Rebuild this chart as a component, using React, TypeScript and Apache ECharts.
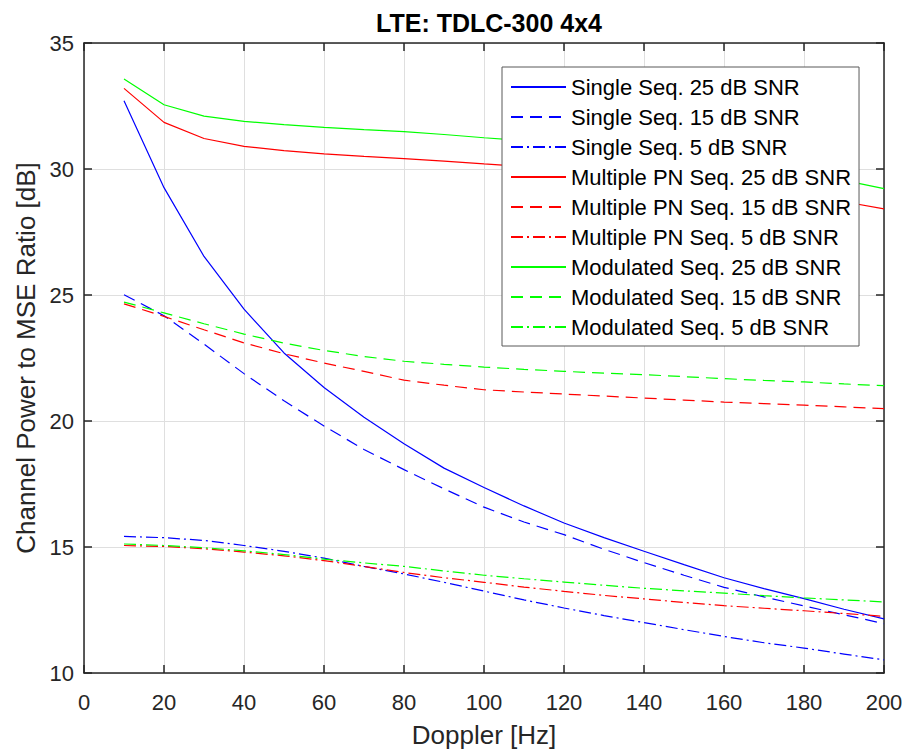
import React, { useEffect, useRef } from "react";
import * as echarts from "echarts";

const doppler = [10, 20, 30, 40, 50, 60, 70, 80, 90, 100, 110, 120, 130, 140, 150, 160, 170, 180, 190, 200];

const single25 = [32.71, 29.26, 26.53, 24.44, 22.7, 21.33, 20.15, 19.1, 18.13, 17.36, 16.63, 15.95, 15.37, 14.83, 14.3, 13.78, 13.35, 12.95, 12.53, 12.15];
const single15 = [25.01, 24.18, 23.05, 21.88, 20.8, 19.8, 18.87, 18.07, 17.31, 16.58, 15.99, 15.49, 14.91, 14.38, 13.88, 13.4, 13.02, 12.66, 12.31, 11.96];
const single5 = [15.42, 15.37, 15.26, 15.06, 14.83, 14.56, 14.23, 13.93, 13.6, 13.25, 12.9, 12.58, 12.28, 12.0, 11.72, 11.45, 11.2, 10.99, 10.75, 10.52];
const multi25 = [33.2, 31.85, 31.21, 30.9, 30.73, 30.6, 30.5, 30.41, 30.31, 30.2, 30.1, 29.98, 29.85, 29.7, 29.53, 29.35, 29.15, 28.93, 28.7, 28.42];
const multi15 = [24.65, 24.15, 23.62, 23.1, 22.67, 22.3, 21.97, 21.62, 21.42, 21.24, 21.15, 21.07, 20.99, 20.91, 20.83, 20.75, 20.69, 20.63, 20.56, 20.49];
const multi5 = [15.06, 15.02, 14.93, 14.8, 14.65, 14.46, 14.23, 13.99, 13.78, 13.6, 13.41, 13.24, 13.08, 12.94, 12.8, 12.67, 12.57, 12.47, 12.36, 12.25];
const mod25 = [33.57, 32.55, 32.1, 31.89, 31.76, 31.65, 31.56, 31.48, 31.37, 31.24, 31.12, 30.99, 30.84, 30.68, 30.5, 30.3, 30.08, 29.84, 29.55, 29.22];
const mod15 = [24.72, 24.29, 23.86, 23.45, 23.09, 22.8, 22.56, 22.37, 22.25, 22.14, 22.05, 21.97, 21.9, 21.84, 21.76, 21.68, 21.61, 21.55, 21.47, 21.4];
const mod5 = [15.12, 15.06, 14.97, 14.85, 14.7, 14.52, 14.37, 14.23, 14.05, 13.88, 13.74, 13.61, 13.48, 13.36, 13.26, 13.17, 13.07, 12.98, 12.9, 12.82];

const seriesNames = [
  "Single Seq. 25 dB SNR",
  "Single Seq. 15 dB SNR",
  "Single Seq. 5 dB SNR",
  "Multiple PN Seq. 25 dB SNR",
  "Multiple PN Seq. 15 dB SNR",
  "Multiple PN Seq. 5 dB SNR",
  "Modulated Seq. 25 dB SNR",
  "Modulated Seq. 15 dB SNR",
  "Modulated Seq. 5 dB SNR",
];
const seriesValues = [single25, single15, single5, multi25, multi15, multi5, mod25, mod15, mod5];
const seriesColors = ["#0000ff", "#0000ff", "#0000ff", "#ff0000", "#ff0000", "#ff0000", "#00ff00", "#00ff00", "#00ff00"];
const DASH = [12, 7];
const DASHDOT = [12, 4, 2, 4];
const seriesDash: any[] = ["solid", DASH, DASHDOT, "solid", DASH, DASHDOT, "solid", DASH, DASHDOT];

const FONT = "'Liberation Sans', Arial, Helvetica, sans-serif";
const AX = "#262626";

export default function App() {
  const ref = useRef<HTMLDivElement>(null);
  useEffect(() => {
    if (!ref.current) return;
    const chart = echarts.init(ref.current, undefined, { renderer: "svg" });
    const axisCommon = {
      axisLine: { show: true, onZero: false, lineStyle: { color: AX, width: 1.5 } },
      axisTick: { show: true, inside: true, length: 8, lineStyle: { color: AX, width: 1.5 } },
    };
    const option: any = {
      animation: false,
      backgroundColor: "#ffffff",
      textStyle: { fontFamily: FONT },
      title: {
        text: "LTE: TDLC-300 4x4",
        left: 484,
        top: 5,
        textAlign: "center",
        textStyle: { fontFamily: FONT, fontSize: 25, fontWeight: "bold", color: "#000000" },
      },
      grid: { left: 84, top: 43, right: 21, bottom: 76, containLabel: false, outerBoundsMode: "none" },
      legend: {
        orient: "vertical",
        left: 502,
        top: 67,
        z: 20,
        padding: [9, 8, 8, 8],
        itemWidth: 55,
        itemHeight: 14,
        itemGap: 8,
        backgroundColor: "#ffffff",
        borderColor: "#595959",
        borderWidth: 1,
        borderRadius: 0,
        itemStyle: { opacity: 0 },
        textStyle: { fontFamily: FONT, fontSize: 22, lineHeight: 22, color: "#000000" },
        data: seriesNames,
      },
      xAxis: [
        {
          type: "value",
          min: 0,
          max: 200,
          interval: 20,
          position: "bottom",
          name: "Doppler [Hz]",
          nameLocation: "middle",
          nameGap: 49,
          nameTextStyle: { fontFamily: FONT, fontSize: 26, color: AX },
          ...axisCommon,
          axisLabel: { show: true, margin: 18, fontFamily: FONT, fontSize: 22, color: AX },
          splitLine: { show: true, lineStyle: { color: "#dfdfdf", width: 1 } },
        },
        {
          type: "value",
          min: 0,
          max: 200,
          interval: 20,
          position: "top",
          ...axisCommon,
          axisLabel: { show: false },
          splitLine: { show: false },
        },
      ],
      yAxis: [
        {
          type: "value",
          min: 10,
          max: 35,
          interval: 5,
          position: "left",
          name: "Channel Power to MSE Ratio [dB]",
          nameLocation: "middle",
          nameGap: 45,
          nameRotate: 90,
          nameTextStyle: { fontFamily: FONT, fontSize: 26, color: AX },
          ...axisCommon,
          axisLabel: { show: true, margin: 10, fontFamily: FONT, fontSize: 22, color: AX },
          splitLine: { show: true, lineStyle: { color: "#dfdfdf", width: 1 } },
        },
        {
          type: "value",
          min: 10,
          max: 35,
          interval: 5,
          position: "right",
          ...axisCommon,
          axisLabel: { show: false },
          splitLine: { show: false },
        },
      ],
      series: seriesNames.map((name, i) => ({
        name,
        type: "line",
        xAxisIndex: 0,
        yAxisIndex: 0,
        showSymbol: false,
        symbol: "none",
        color: seriesColors[i],
        lineStyle: { color: seriesColors[i], width: 1.2, type: seriesDash[i] },
        data: doppler.map((d, j) => [d, seriesValues[i][j]]),
      })),
    };
    chart.setOption(option);
    return () => chart.dispose();
  }, []);
  return <div ref={ref} style={{ width: 905, height: 749, position: "absolute", left: 0, top: 0 }} />;
}
